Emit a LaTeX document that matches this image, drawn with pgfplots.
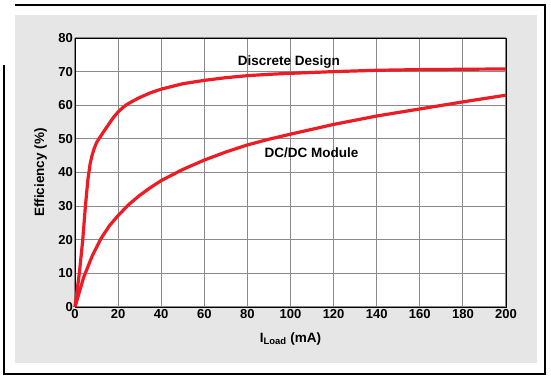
\documentclass[border=0pt]{standalone}
\usepackage{pgfplots}
\pgfplotsset{compat=1.18}
\usepackage{fontspec}
\setmainfont{Liberation Sans}
\definecolor{curvered}{HTML}{ED1C24}
\definecolor{panelgray}{HTML}{E6E6E6}
\definecolor{gridgray}{HTML}{8A8A8A}
\begin{document}
\begin{tikzpicture}[x=1pt,y=1pt]
\useasboundingbox (-75,-71) rectangle (476,307);
\fill[panelgray] (-60,-56) rectangle (462,292);
\draw[black,line width=1.2pt] (-60,302) -- (470,302) -- (470,-67) -- (-71,-67) -- (-71,242);
\begin{axis}[
  at={(0,0)}, anchor=origin,
  scale only axis, width=431pt, height=269pt,
  xmin=0, xmax=200, ymin=0, ymax=80,
  xtick={0,20,...,200}, ytick={0,10,...,80},
  axis background/.style={fill=white},
  grid=major,
  major grid style={gridgray, line width=1.1pt},
  axis line style={black, line width=1pt},
  major tick length=0pt,
  /pgf/number format/assume math mode=true,
  ticklabel style={font=\bfseries\fontsize{13}{15}\selectfont},
  label style={font=\bfseries\fontsize{13.5}{16}\selectfont},
  xticklabel style={yshift=0pt, inner sep=2pt},
  yticklabel style={inner sep=2pt},
  xlabel={I\textsubscript{Load} (mA)},
  ylabel={Efficiency (\%)},
  xlabel style={yshift=-9pt},
  ylabel style={yshift=6pt},
  clip=false,
]
\addplot[curvered, line width=3.2pt, line join=round] coordinates {
(0,0) (2,10) (3.6,20) (4.8,29.8) (6,38) (7,42.5) (8,45.3) (9,47.3) (10,48.9)
(12,50.9) (14,52.8) (16,54.7) (18,56.5) (20,58) (22,59.2) (24,60.2) (27,61.3)
(30,62.3) (35,63.7) (40,64.8) (50,66.4) (60,67.4) (70,68.2) (80,68.8) (90,69.2) (100,69.5)
(120,70) (140,70.4) (160,70.6) (180,70.7) (200,70.8)};
\addplot[curvered, line width=3.2pt, line join=round] coordinates {
(0,0) (4,8.8) (8,15.2) (12,20.3) (16,24.2) (20,27.2) (25,30.5) (30,33.2)
(35,35.5) (40,37.6) (50,40.9) (60,43.7) (70,46.1) (80,48.2) (90,49.9)
(100,51.4) (120,54.3) (140,56.8) (160,58.9) (180,61) (200,63)};
\node[font=\bfseries\fontsize{13.5}{16}\selectfont] at (axis cs:99.3,73) {Discrete Design};
\node[font=\bfseries\fontsize{13.5}{16}\selectfont] at (axis cs:109.7,45.8) {DC/DC Module};
\end{axis}
\end{tikzpicture}
\end{document}
